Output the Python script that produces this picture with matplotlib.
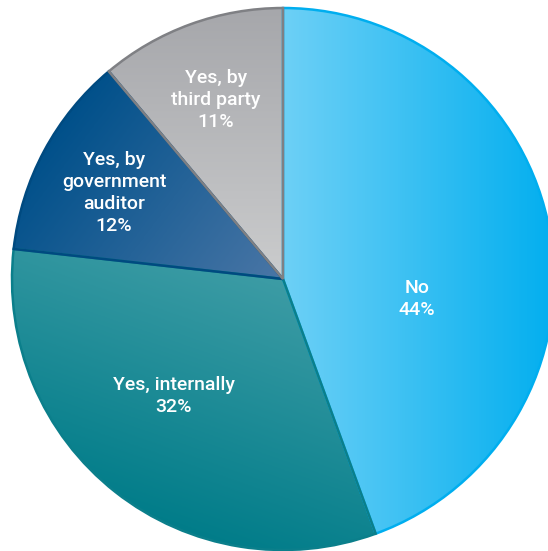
import numpy as np
import matplotlib.pyplot as plt
from matplotlib.colors import LinearSegmentedColormap

labels = ["No", "Yes, internally", "Yes, by\ngovernment\nauditor", "Yes, by\nthird party"]
shares = [44, 32, 12, 11]

# gradient start/end colours, edge colour and gradient direction per slice
grad_from = ["#6dd0f6", "#3d9ca5", "#00508a", "#a6a7ab"]
grad_to = ["#00aeef", "#007c89", "#4a76a6", "#cbcccd"]
edge_cols = ["#00aeef", "#0b7f8b", "#004a80", "#7f8084"]
grad_dir = [(1, 0), (-0.35, -1), (0.8, -0.6), (0, -1)]

# label anchor as (radius fraction, angle in degrees)
label_pos = [(0.50, -8.5), (0.59, 227.0), (0.70, 153.0), (0.705, 110.5)]

plt.rcParams['font.family'] = ['Roboto', 'DejaVu Sans']

fig = plt.figure(figsize=(5.48, 5.51), dpi=100)
ax = fig.add_axes([0, 0, 1, 1])

wedges, _ = ax.pie(shares, startangle=90, counterclock=False, radius=1,
                   wedgeprops=dict(linewidth=0))

gx, gy = np.meshgrid(np.linspace(-1.05, 1.05, 400), np.linspace(-1.05, 1.05, 400))
for w, c0, c1, ec, (dx, dy) in zip(wedges, grad_from, grad_to, edge_cols, grad_dir):
    n = np.hypot(dx, dy)
    # stretch the ramp over the wedge's own extent along the direction
    verts = w.get_path().vertices
    proj = (verts[:, 0] * dx + verts[:, 1] * dy) / n
    pmin, pmax = proj.min(), proj.max()
    t = np.clip(((gx * dx + gy * dy) / n - pmin) / (pmax - pmin), 0, 1)
    cmap = LinearSegmentedColormap.from_list("g", [c0, c1])
    im = ax.imshow(t, cmap=cmap, extent=(-1.05, 1.05, -1.05, 1.05), origin="lower",
                   vmin=0, vmax=1, interpolation="bilinear", zorder=2)
    im.set_clip_path(w)
    w.set_edgecolor(ec)
    w.set_linewidth(1.8)
    w.set_zorder(3)
    w.set_fill(False)

for lab, s, (r, a) in zip(labels, shares, label_pos):
    x, y = r * np.cos(np.radians(a)), r * np.sin(np.radians(a))
    ax.text(x, y, f"{lab}\n{s}%", ha="center", va="center", color="white",
            fontsize=14, fontweight="medium", linespacing=1.27, zorder=5)

ax.set_xlim(-283 / 271, 265 / 271)
ax.set_ylim(-272 / 271, 279 / 271)
ax.set_aspect("equal")
ax.axis("off")

fig.savefig("out.png", dpi=100)
